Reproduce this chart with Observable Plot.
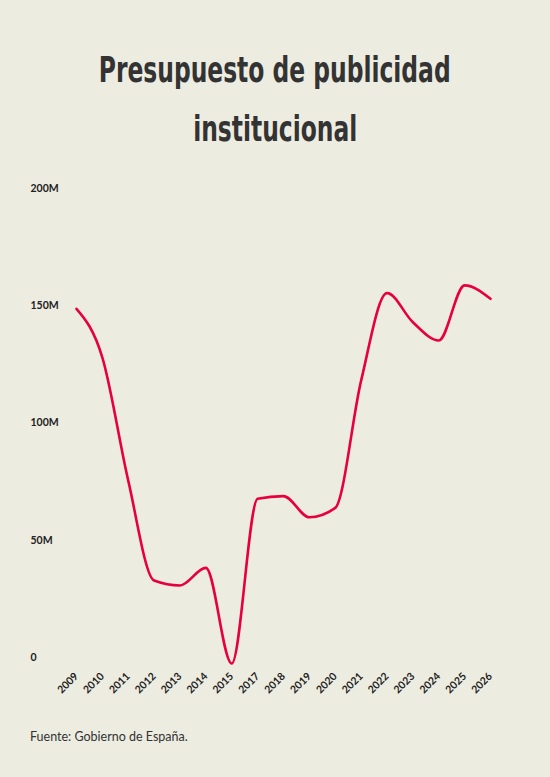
<!DOCTYPE html>
<html>
<head>
<meta charset="utf-8">
<script src="https://cdn.jsdelivr.net/npm/d3@7"></script>
<script src="https://cdn.jsdelivr.net/npm/@observablehq/plot@0.6"></script>
<style>
  html, body { margin: 0; padding: 0; background: #EDECE1; }
  #wrap { width: 550px; height: 777px; position: relative; background: #EDECE1; overflow: hidden; }
  #title {
    position: absolute; left: 0; width: 550px; top: 0; height: 170px;
    font-family: "DejaVu Sans", sans-serif;
    font-weight: 700; font-size: 36px; line-height: 59px;
    color: #333; text-align: center;
  }
  #title span { display: inline-block; transform: scaleX(0.65); transform-origin: 50% 50%; white-space: nowrap; }
  #l1 { position: absolute; left: 0; right: 0; top: 40px; }
  #l2 { position: absolute; left: 0; right: 0; top: 99px; }
  #chart { position: absolute; left: 0; top: 170px; }
  #chart svg { display: block; }
  #foot {
    position: absolute; left: 30px; top: 729px;
    font-family: Lato, sans-serif; font-size: 12.5px; color: #333;
  }
</style>
</head>
<body>
<div id="wrap">
  <div id="title">
    <div id="l1"><span>Presupuesto de publicidad</span></div>
    <div id="l2"><span>institucional</span></div>
  </div>
  <div id="chart"></div>
  <div id="foot">Fuente: Gobierno de España.</div>
</div>
<script>
const years = ["2009","2010","2011","2012","2013","2014","2015","2017","2018","2019","2020","2021","2022","2023","2024","2025","2026"];
const budget = [151.3, 130.5, 78, 35.4, 33.3, 40.8, 0, 70.3, 71.4, 62.4, 66.4, 120.7, 158, 145.6, 137.8, 161.3, 155.6];
const yTicks = [0, 50, 100, 150, 200];

const data = years.map((y, i) => ({year: y, value: budget[i]}));

const chart = Plot.plot({
  width: 550,
  height: 530,
  marginTop: 24.2,
  marginBottom: 37,
  marginLeft: 76,
  marginRight: 60,
  style: {background: "transparent", fontFamily: "Lato, sans-serif", fontSize: "10.5px", fontWeight: 700, color: "#222"},
  x: {type: "point", domain: years, padding: 0, round: false},
  y: {domain: [0, 200]},
  marks: [
    Plot.axisY({ticks: yTicks, tickSize: 0, tickPadding: 46, textAnchor: "start", dy: -6, label: null,
      tickFormat: d => d === 0 ? "0" : d + "M"}),
    Plot.axisX({tickSize: 0, tickRotate: -45, tickPadding: 11, label: null}),
    Plot.line(data, {x: "year", y: "value", curve: "monotone-x", stroke: "#E8003D", strokeWidth: 2.6})
  ]
});
document.getElementById("chart").appendChild(chart);
</script>
</body>
</html>
